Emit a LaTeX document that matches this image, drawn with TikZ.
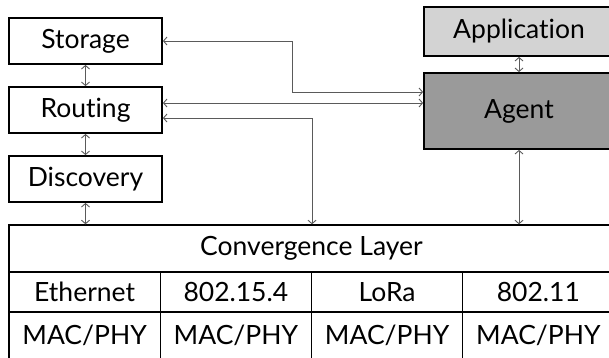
\documentclass[tikz,border=0pt]{standalone}
\usepackage{fontspec}
\setmainfont[Ligatures=NoCommon]{Lato}
\usetikzlibrary{arrows.meta,calc}
\definecolor{appfill}{HTML}{D3D3D3}
\definecolor{agentfill}{HTML}{9A9A9A}
\definecolor{connline}{HTML}{5A5A5A}
\tikzset{
  box/.style={draw=black, line width=1.8pt, rectangle, inner sep=0pt,
    font=\fontsize{26.5}{30}\selectfont},
  cell/.style={draw=black, line width=1.4pt, rectangle, inner sep=0pt,
    font=\fontsize{26.5}{30}\selectfont},
  conn/.style={draw=connline, line width=0.9pt,
    {Straight Barb[length=3.5pt,width=8pt]}-{Straight Barb[length=3.5pt,width=8pt]}},
}
\begin{document}
\begin{tikzpicture}[x=1pt,y=-1pt]
\useasboundingbox (0,0) rectangle (609,357);
% left protocol stack
\node[box, minimum width=153pt, minimum height=46pt] (storage) at (85.5,41) {Storage};
\node[box, minimum width=153pt, minimum height=46pt] (routing) at (85.5,110) {Routing};
\node[box, minimum width=153pt, minimum height=46pt] (discovery) at (85.5,179) {Discovery};
% application and agent
\node[box, fill=appfill, minimum width=190pt, minimum height=49pt] (app) at (519,31.5) {Application};
\node[box, fill=agentfill, minimum width=190pt, minimum height=76pt] (agent) at (519,111) {Agent};
% convergence layer and link technologies
\node[cell, minimum width=605pt, minimum height=47pt] (conv) at (311.5,248.5) {Convergence Layer};
\node[cell, minimum width=151.25pt, minimum height=40pt] (eth) at (84.625,292) {Ethernet};
\node[cell, minimum width=151.25pt, minimum height=40pt] (zig) at (235.875,292) {802.15.4};
\node[cell, minimum width=151.25pt, minimum height=40pt] (lora) at (387.125,292) {LoRa};
\node[cell, minimum width=151.25pt, minimum height=40pt] (wifi) at (538.375,292) {802.11};
\node[cell, minimum width=151.25pt, minimum height=47pt] (mac1) at (84.625,335.5) {MAC/PHY};
\node[cell, minimum width=151.25pt, minimum height=47pt] (mac2) at (235.875,335.5) {MAC/PHY};
\node[cell, minimum width=151.25pt, minimum height=47pt] (mac3) at (387.125,335.5) {MAC/PHY};
\node[cell, minimum width=151.25pt, minimum height=47pt] (mac4) at (538.375,335.5) {MAC/PHY};
% bend points of the connectors
\coordinate (sbend) at (292,92);
\coordinate (rtop) at (routing.east |- 0,103);
\coordinate (rlow) at (routing.east |- 0,118);
\coordinate (rbend) at (312,118);
% connectors
\draw[conn] (storage.south) -- (routing.north);
\draw[conn] (routing.south) -- (discovery.north);
\draw[conn] (discovery.south) -- (discovery.south |- conv.north);
\draw[conn] (storage.east) -| (sbend) -- (sbend -| agent.west);
\draw[conn] (rtop) -- (rtop -| agent.west);
\draw[conn] (rlow) -- (rbend) -- (rbend |- conv.north);
\draw[conn] (app.south) -- (agent.north);
\draw[conn] (agent.south) -- (agent.south |- conv.north);
\end{tikzpicture}
\end{document}
